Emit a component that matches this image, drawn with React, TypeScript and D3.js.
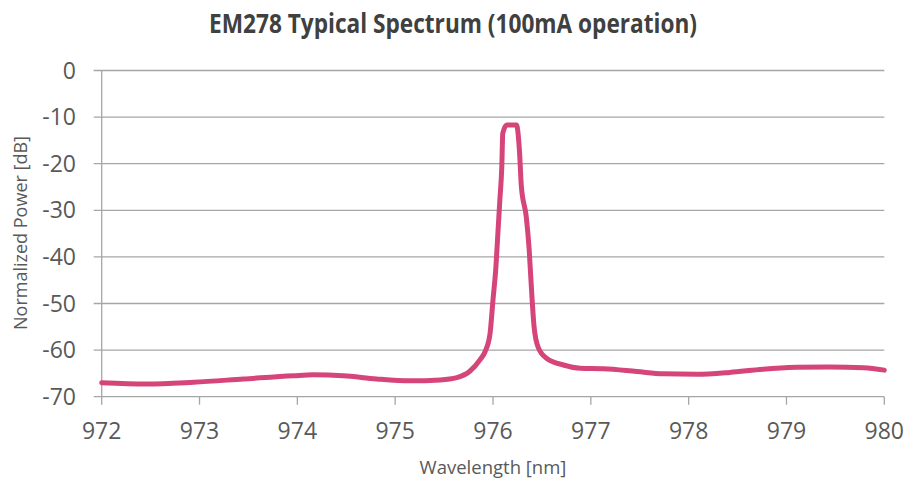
import React from "react";
import * as d3 from "d3";

const wavelength = [
  972.0, 972.46, 972.94, 973.45, 973.96, 974.16, 974.47, 974.81, 975.15, 975.46,
  975.63, 975.76, 975.87, 975.92, 975.97, 976.0, 976.03, 976.05, 976.07, 976.09,
  976.1, 976.14, 976.24, 976.27, 976.29, 976.34, 976.37, 976.39, 976.42, 976.46,
  976.55, 976.72, 976.89, 977.13, 977.47, 977.74, 978.08, 978.42, 978.76, 979.1,
  979.44, 979.79, 980.0,
];
const power = [
  -67.0, -67.3, -66.9, -66.2, -65.5, -65.3, -65.5, -66.2, -66.6, -66.4,
  -65.9, -64.6, -62.0, -60.3, -56.4, -49.2, -42.1, -34.9, -27.8, -20.6,
  -13.5, -11.7, -11.7, -17.1, -24.9, -31.4, -38.5, -45.7, -55.0, -59.3,
  -61.8, -63.2, -63.9, -64.0, -64.6, -65.1, -65.2, -64.8, -64.1, -63.7,
  -63.6, -63.8, -64.3,
];
const xTicks = [972, 973, 974, 975, 976, 977, 978, 979, 980];
const yTicks = [0, -10, -20, -30, -40, -50, -60, -70];

const W = 919;
const H = 481;
const left = 101.7;
const right = 884.3;
const top = 70.5;
const bottom = 396.7;
const FONT = "'Open Sans', 'Liberation Sans', sans-serif";

export default function App() {
  const x = d3.scaleLinear().domain([972, 980]).range([left, right]);
  const y = d3.scaleLinear().domain([-70, 0]).range([bottom, top]);
  const pts = wavelength.map((w, i) => [w, power[i]] as [number, number]);
  const line = d3
    .line<[number, number]>()
    .x((d) => x(d[0]))
    .y((d) => y(d[1]))
    .curve(d3.curveMonotoneX);
  const gridColor = "#a6a6a6";
  const textColor = "#595959";
  return (
    <svg
      width={W}
      height={H}
      style={{ position: "absolute", left: 0, top: 0, background: "#fff" }}
    >
      <text
        x={453}
        y={33}
        textAnchor="middle"
        fontFamily={FONT}
        fontWeight="bold"
        fontSize={26}
        textLength={488}
        lengthAdjust="spacingAndGlyphs"
        fill="#404040"
      >
        EM278 Typical Spectrum (100mA operation)
      </text>
      {yTicks.map((t) => (
        <g key={t}>
          <line x1={left - 8} x2={right} y1={y(t)} y2={y(t)} stroke={gridColor} strokeWidth={1.3} />
          <text
            x={76}
            y={y(t)}
            dy="0.35em"
            textAnchor="end"
            fontFamily={FONT}
            fontSize={23}
            fill={textColor}
          >
            {t}
          </text>
        </g>
      ))}
      <line x1={left} x2={left} y1={top} y2={bottom} stroke={gridColor} strokeWidth={1.3} />
      {xTicks.map((t) => (
        <g key={t}>
          <line x1={x(t)} x2={x(t)} y1={bottom} y2={bottom + 8} stroke={gridColor} strokeWidth={1.3} />
          <text
            x={x(t)}
            y={439}
            textAnchor="middle"
            fontFamily={FONT}
            fontSize={23}
            fill={textColor}
          >
            {t}
          </text>
        </g>
      ))}
      <path
        d={line(pts) || ""}
        fill="none"
        stroke="#d6457a"
        strokeWidth={5}
        strokeLinejoin="round"
        strokeLinecap="round"
      />
      <text
        x={493}
        y={474}
        textAnchor="middle"
        fontFamily={FONT}
        fontSize={18.5}
        fill={textColor}
      >
        Wavelength [nm]
      </text>
      <text
        transform={`translate(27,233) rotate(-90)`}
        textAnchor="middle"
        fontFamily={FONT}
        fontSize={18}
        fill={textColor}
      >
        Normalized Power [dB]
      </text>
    </svg>
  );
}
